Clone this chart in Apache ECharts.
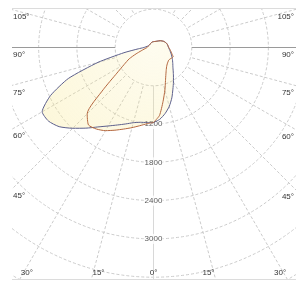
<!DOCTYPE html>
<html>
<head>
<meta charset="utf-8">
<script src="https://cdn.jsdelivr.net/npm/echarts@6/dist/echarts.min.js"></script>
<style>
    html, body { margin: 0; padding: 0; background: #fff; }
    #main { position: absolute; left: 12px; top: 9px; width: 284px; height: 270px; }
    .rule { position: absolute; left: 12px; width: 284px; height: 1px; background: #dcdcdc; }
</style>
</head>
<body>
<div class="rule" style="top:8px"></div>
<div id="main"></div>
<div class="rule" style="top:279px"></div>
<script>
// gamma angles (deg from nadir) used for both half planes
var gammaAngles = [0, 5, 10, 15, 20, 25, 30, 35, 40, 45, 50, 55, 60, 65, 70, 75, 80, 85, 90, 105, 120, 135, 150, 165, 180];
// C0-C180 plane (blue): left half / right half, cd
var blueLeft  = [1175, 1180, 1190, 1220, 1275, 1340, 1420, 1520, 1650, 1790, 1930, 2010, 2015, 1780, 1420, 900, 470, 240, 150, 90, 75, 75, 80, 88, 92];
var blueRight = [1175, 1130, 1050, 955, 840, 720, 625, 545, 480, 430, 395, 365, 340, 315, 295, 275, 260, 245, 235, 220, 190, 150, 115, 98, 92];
// C90-C270 plane (brown)
var brownLeft  = [1175, 1200, 1245, 1300, 1360, 1430, 1505, 1560, 1585, 1470, 1030, 700, 530, 420, 290, 200, 150, 120, 100, 85, 75, 75, 80, 88, 92];
var brownRight = [1175, 1070, 860, 690, 550, 460, 400, 360, 335, 320, 310, 315, 330, 340, 310, 290, 270, 255, 240, 220, 190, 150, 115, 98, 92];
// ring labels and angle labels
var ringLabels = [1200, 1800, 2400, 3000];
var angleLabels = [0, 15, 30, 45, 60, 75, 90, 105];

var chart = echarts.init(document.getElementById('main'));
var center = [141.5, 38.5];
var rOuter = 268;
var rInner = 38.3;
var fontFam = '"Liberation Sans", Arial, sans-serif';

function planeCurve(left, right) {
    var pts = [];
    for (var i = 0; i < gammaAngles.length; i++) {
        pts.push([left[i], gammaAngles[i]]);
    }
    for (var j = gammaAngles.length - 2; j >= 0; j--) {
        pts.push([right[j], 360 - gammaAngles[j]]);
    }
    return pts;
}

// outline of both planes together, used for the shared fill
function envelope(a, b) {
    return a.map(function (v, i) { return Math.max(v, b[i]); });
}

function hiddenAxis(extra) {
    var o = { axisLine: { show: false }, axisTick: { show: false }, axisLabel: { show: false }, splitLine: { show: false } };
    for (var k in extra) o[k] = extra[k];
    return o;
}

var gridLine = { color: '#cbcbcb', width: 1, type: [3, 2] };

var option = {
    animation: false,
    polar: [
        { center: center, radius: [rInner, rOuter] },
        { center: center, radius: [rInner, rOuter] },
        { center: center, radius: [0, rOuter] }
    ],
    angleAxis: [
        hiddenAxis({ polarIndex: 0, type: 'value', min: 0, max: 360, interval: 15, startAngle: 270, clockwise: true,
            splitLine: { show: true, lineStyle: gridLine } }),
        hiddenAxis({ polarIndex: 1, type: 'value', min: 0, max: 360, interval: 90, startAngle: 270, clockwise: true,
            splitLine: { show: true, lineStyle: { color: ['#d8d8d8', '#9a9a9a', '#d8d8d8', '#9a9a9a'], width: 1, type: 'solid' } } }),
        hiddenAxis({ polarIndex: 2, type: 'value', min: 0, max: 360, startAngle: 270, clockwise: true })
    ],
    radiusAxis: [
        hiddenAxis({ polarIndex: 0, type: 'value', min: 600, max: 4200, interval: 600,
            splitLine: { show: true, lineStyle: gridLine } }),
        hiddenAxis({ polarIndex: 1, type: 'value', min: 600, max: 4200 }),
        hiddenAxis({ polarIndex: 2, type: 'value', min: 0, max: 4200 })
    ],
    series: [
        {
            name: 'fill', type: 'line', coordinateSystem: 'polar', polarIndex: 2,
            data: planeCurve(envelope(blueLeft, brownLeft), envelope(blueRight, brownRight)),
            symbol: 'none', smooth: 0.2, clip: false,
            lineStyle: { width: 0 },
            areaStyle: { color: 'rgba(248,232,140,0.3)', origin: 0 }
        },
        {
            name: 'C0-C180', type: 'line', coordinateSystem: 'polar', polarIndex: 2,
            data: planeCurve(blueLeft, blueRight), symbol: 'none', smooth: 0.2, clip: false,
            lineStyle: { color: '#5c5f8c', width: 1 }
        },
        {
            name: 'C90-C270', type: 'line', coordinateSystem: 'polar', polarIndex: 2,
            data: planeCurve(brownLeft, brownRight), symbol: 'none', smooth: 0.2, clip: false,
            lineStyle: { color: '#b4673f', width: 1 }
        },
        {
            type: 'scatter', coordinateSystem: 'polar', polarIndex: 2,
            data: ringLabels.map(function (v) { return [v, 0]; }),
            symbolSize: 1, itemStyle: { color: 'rgba(0,0,0,0)' },
            label: { show: true, position: 'inside', formatter: function (p) { return p.value[0]; },
                fontSize: 8, fontFamily: fontFam, color: '#333', backgroundColor: '#fff', padding: [1, 1] }
        }
    ]
};
chart.setOption(option);

var w = chart.getWidth(), h = chart.getHeight();
var c = chart.convertToPixel({ polarIndex: 2 }, [0, 0]);

// fill is paler near the lamp, a little yellower out at the lobes
chart.setOption({
    series: [{
        name: 'fill',
        areaStyle: {
            color: new echarts.graphic.RadialGradient(c[0], c[1], 130, [
                { offset: 0, color: 'rgba(248,232,140,0.2)' },
                { offset: 1, color: 'rgba(248,232,140,0.45)' }
            ], true)
        }
    }]
});

// angle labels where the radial lines leave the plot frame
var texts = [];
angleLabels.forEach(function (g) {
    var sides = g === 0 ? [g] : [g, 360 - g];
    sides.forEach(function (a) {
        var p = chart.convertToPixel({ polarIndex: 2 }, [4200, a]);
        var dx = p[0] - c[0], dy = p[1] - c[1];
        var tx = dx > 0.01 ? (w - c[0]) / dx : (dx < -0.01 ? -c[0] / dx : Infinity);
        var ty = dy > 0.01 ? (h - c[1]) / dy : (dy < -0.01 ? -c[1] / dy : Infinity);
        var t = Math.min(tx, ty);
        var qx = c[0] + dx * t, qy = c[1] + dy * t;
        var st = { text: g + '°', fill: '#333', font: '8px ' + fontFam };
        if (ty <= tx) {
            st.x = g === 0 ? qx : (a < 180 ? qx + 1 : qx - 1);
            st.y = h - 2;
            st.align = st.textAlign = g === 0 ? 'center' : (a < 180 ? 'left' : 'right');
            st.verticalAlign = st.textVerticalAlign = 'bottom';
        } else {
            st.x = a < 180 ? 1 : w - 2;
            st.y = qy + 3;
            st.align = st.textAlign = a < 180 ? 'left' : 'right';
            st.verticalAlign = st.textVerticalAlign = 'top';
        }
        texts.push({ type: 'text', z: 100, style: st });
    });
});
chart.setOption({ graphic: texts });
</script>
</body>
</html>
